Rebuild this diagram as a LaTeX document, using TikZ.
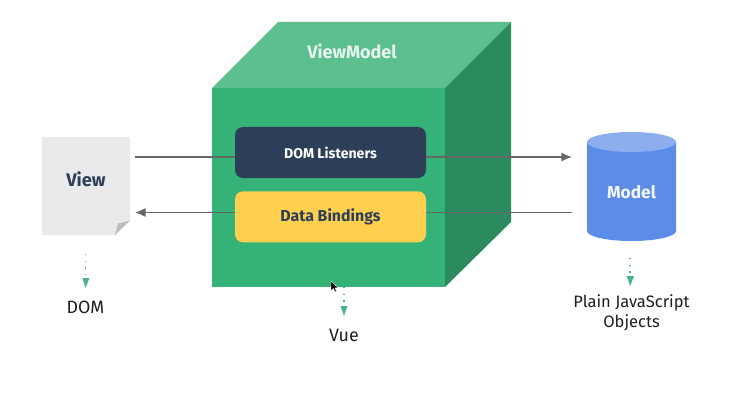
\documentclass[tikz,border=0pt]{standalone}
\usepackage{fontspec}
\setmainfont{Fira Sans}
\usetikzlibrary{arrows.meta}
\definecolor{frontg}{HTML}{35B277}
\definecolor{topg}{HTML}{5BBF90}
\definecolor{sideg}{HTML}{2B8B5E}
\definecolor{navy}{HTML}{2D3F58}
\definecolor{amber}{HTML}{FFD04F}
\definecolor{pagegrey}{HTML}{EAEAEC}
\definecolor{foldgrey}{HTML}{BDBDBD}
\definecolor{bluebody}{HTML}{5B8DE8}
\definecolor{bluetop}{HTML}{8CAEEE}
\definecolor{linegrey}{HTML}{666666}
\definecolor{dotgreen}{HTML}{48B488}
\tikzset{
  x=0.75pt,y=-0.75pt,
  boxlabel/.style={font=\fontsize{#1}{12}\selectfont\bfseries},
  titlelabel/.style={font=\fontsize{#1}{14}\selectfont\bfseries},
  caption/.style={font=\fontsize{#1}{15}\selectfont,text=black!88,align=center,inner sep=0pt},
  panel/.style={draw=none,rounded corners=6pt,minimum width=143.25pt,minimum height=38.25pt,inner sep=0pt},
  flow/.style={draw=linegrey,line width=1.25pt,-{Latex[length=8pt,width=7pt]}},
  plainflow/.style={draw=linegrey,line width=1.25pt},
  dotflow/.style={draw=dotgreen,line width=1.1pt,dash pattern=on 1.1pt off 3.9pt},
  dothead/.style={fill=dotgreen,draw=none},
}
\begin{document}
\begin{tikzpicture}
\useasboundingbox (0,0) rectangle (755,417);
\fill[white] (0,0) rectangle (755,417);
% cube
\fill[topg] (212,88) -- (278,22) -- (511,22) -- (445,88) -- cycle;
\fill[sideg] (445,88) -- (511,22) -- (511,222) -- (445,287) -- cycle;
\fill[frontg] (212,88) rectangle (445,287);
% anchors
\coordinate (vtop) at (135,157);
\coordinate (vbot) at (135,212.5);
\coordinate (mtop) at (572,157);
\coordinate (mbot) at (572,212.5);
% panels
\draw[plainflow] (vtop) -- (330,157);
\draw[flow] (330,157) -- (mtop);
\draw[plainflow] (mbot) -- (330,212.5);
\draw[flow] (330,212.5) -- (vbot);
\node[panel,fill=navy,text=white,boxlabel=10.6] (listen) at (330.5,152.5) {DOM Listeners};
\node[panel,fill=amber,text=navy,boxlabel=11.9] (bind) at (330.5,216.8) {Data Bindings};
\node[text=white!85!topg,titlelabel=13.5] (vm) at (352,51.5) {ViewModel};
% view page
\fill[pagegrey] (42,137) -- (130,137) -- (130,220.5) -- (115,235) -- (42,235) -- cycle;
\fill[foldgrey] (130,220.5) -- (115,235) -- (118,223.5) -- cycle;
\node[text=navy,titlelabel=13.7] (view) at (86,179) {View};
% cylinder
\fill[bluebody] (587,142) -- (587,231) arc[start angle=180,end angle=0,x radius=44.5,y radius=10] -- (676,142) -- cycle;
\fill[bluetop] (631.5,142) ellipse[x radius=44.5,y radius=10];
\node[text=white!92!bluebody,titlelabel=13] (model) at (631.5,192) {Model};
% captions
\node[caption=13.4] (dom) at (85.5,307) {DOM};
\node[caption=13.4] (vue) at (344,335.5) {Vue};
\node[caption=12.4] (js) at (631.5,313) {Plain JavaScript\\Objects};
% dotted pointers
\draw[dotflow] (85.5,254) -- (85.5,277);
\fill[dothead] (82.3,278) -- (89.3,278) -- (85.8,288) -- cycle;
\draw[dotflow] (344,287) -- (344,305);
\fill[dothead] (340.5,306) -- (347.5,306) -- (344,316) -- cycle;
\draw[dotflow] (630,258) -- (630,275);
\fill[dothead] (626.5,276) -- (634,276) -- (630.2,286) -- cycle;
% mouse pointer
\fill[black,draw=white,line width=0.3pt] (331,281) -- (331,290.5) -- (333.5,288.5) -- (335,292) -- (336.5,291.2) -- (335,288) -- (338,287.6) -- cycle;
\end{tikzpicture}
\end{document}
